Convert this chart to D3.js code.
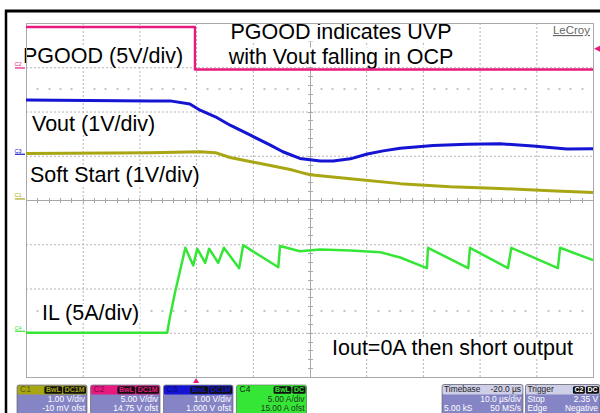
<!DOCTYPE html>
<html>
<head>
<meta charset="utf-8">
<script src="https://cdn.jsdelivr.net/npm/d3@7"></script>
<style>
body { margin: 0; background: #fff; }
svg { display: block; font-family: "Liberation Sans", Arial, sans-serif; }
</style>
</head>
<body>
<svg id="scope" width="600" height="413"></svg>
<script>
// time in microseconds (trigger at 0), value in each channel's unit
const pgood = [[-30, 4.8], [-0.2, 4.8], [-0.2, 0], [70, 0]];

const vout = [[-30, 1.26], [-8.1, 1.24], [-4.6, 1.24], [-1.1, 1.17], [0.7, 1.03], [3.4, 0.88],
  [6.0, 0.69], [9.5, 0.47], [13.1, 0.24], [15.3, 0.09], [18.3, -0.06], [21.9, -0.12],
  [24.2, -0.12], [27.2, -0.07], [30.2, 0.04], [33.0, 0.11], [36.0, 0.17], [41.8, 0.23],
  [47.8, 0.26], [53.6, 0.27], [59.4, 0.22], [65.4, 0.15], [70, 0.16]];

const softStart = [[-30, 1.06], [-8.1, 1.08], [0.7, 1.10], [3.4, 1.08], [6.0, 0.97], [9.5, 0.88],
  [13.1, 0.79], [16.6, 0.70], [18.3, 0.64], [20.1, 0.58], [27.2, 0.49], [36.0, 0.38],
  [44.8, 0.31], [53.6, 0.27], [62.4, 0.22], [70, 0.18]];

const iL = [[-30, 0], [-5.1, 0], [-4.6, 1.8], [-3.7, 4.6], [-2.8, 7.1], [-1.9, 9.6], [-0.5, 7.6],
  [0.2, 9.5], [1.6, 7.9], [2.3, 9.5], [3.9, 7.9], [4.9, 9.6], [7.6, 7.3], [8.3, 9.9],
  [14.5, 7.4], [14.8, 9.8], [18.3, 9.2], [21.9, 9.4], [27.2, 9.3], [32.5, 9.1], [36.0, 8.5],
  [40.7, 7.3], [40.9, 9.6], [48.0, 7.3], [48.3, 9.6], [55.0, 7.3], [55.6, 9.6], [63.8, 7.3],
  [64.2, 9.6], [70, 8.2]];

// channel settings
const chanNames = ["C1", "C2", "C3", "C4"];
const chanData = [softStart, pgood, vout, iL];
const chanPerDiv = [1, 5, 1, 5];
const chanZeroDiv = [-0.01, 2.95, 1.0, -3.0];
const chanColors = ["#a9a614", "#e8197f", "#1414d2", "#36e636"];
const chanWidths = [3, 2.4, 3, 2.5];
const chanScaleText = ["1.00 V/div", "5.00 V/div", "1.00 V/div", "5.00 A/div"];
const chanOfstText = ["-10 mV ofst", "14.75 V ofst", "1.000 V ofst", "15.00 A ofst"];
const chanTags = [["BwL", "DC1M"], ["BwL", "DC1M"], ["BwL", "DC1M"], ["BwL", "DC"]];

const timebaseRows = [["Timebase", "-20.0 µs"], ["", "10.0 µs/div"], ["5.00 kS", "50 MS/s"]];
const triggerRows = [["Trigger", ""], ["Stop", "2.35 V"], ["Edge", "Negative"]];
const triggerLevel = 2.35; // volts on C2

const svg = d3.select("#scope");
svg.append("rect").attr("width", 600).attr("height", 413).attr("fill", "#fff");

var x = d3.scaleLinear().domain([-30, 70]).range([26, 593]);
var y = d3.scaleLinear().domain([-4, 4]).range([377, 23]);

// black frame of the screenshot
svg.append("line").attr("x1", 5).attr("x2", 600).attr("y1", 11).attr("y2", 11)
  .attr("stroke", "#000").attr("stroke-width", 3);
svg.append("line").attr("x1", 6).attr("x2", 6).attr("y1", 10).attr("y2", 413)
  .attr("stroke", "#000").attr("stroke-width", 2.5);

// grid
var grid = svg.append("g");
var tMajor = d3.range(-30, 71, 10);
var vMajor = d3.range(-4, 5, 1);

grid.selectAll(".vg").data(tMajor.filter(t => t > -30 && t < 70 && t !== 20)).enter()
  .append("line")
  .attr("x1", d => x(d) + 0.5).attr("x2", d => x(d) + 0.5)
  .attr("y1", y(4)).attr("y2", y(-4))
  .attr("stroke", "#b4b4b4").attr("stroke-dasharray", "2,2");

grid.selectAll(".hg").data(vMajor.filter(v => v > -4 && v < 4 && v !== 0)).enter()
  .append("line")
  .attr("x1", x(-30)).attr("x2", x(70))
  .attr("y1", d => y(d) + 0.5).attr("y2", d => y(d) + 0.5)
  .attr("stroke", "#b4b4b4").attr("stroke-dasharray", "2,2");

// center axes with minor ticks
var xc = Math.round(x(20)) + 0.5, yc = Math.round(y(0)) + 0.5;
grid.append("line").attr("x1", xc).attr("x2", xc).attr("y1", y(4)).attr("y2", y(-4))
  .attr("stroke", "#a8a8a8");
grid.append("line").attr("x1", x(-30)).attr("x2", x(70)).attr("y1", yc).attr("y2", yc)
  .attr("stroke", "#a8a8a8");

var tMinor = d3.range(-30, 70.01, 2);
var vMinor = d3.range(-4, 4.01, 0.2);

grid.selectAll(".tx").data(tMinor).enter().append("line")
  .attr("x1", d => Math.round(x(d)) + 0.5).attr("x2", d => Math.round(x(d)) + 0.5)
  .attr("y1", yc - 2.5).attr("y2", yc + 2.5)
  .attr("stroke", "#a8a8a8");
grid.selectAll(".ty").data(vMinor).enter().append("line")
  .attr("x1", xc - 2.5).attr("x2", xc + 2.5)
  .attr("y1", d => Math.round(y(d)) + 0.5).attr("y2", d => Math.round(y(d)) + 0.5)
  .attr("stroke", "#a8a8a8");

// rows of minor marks at +/- 2.5 div
[2.5, -2.5].forEach(function(v) {
  grid.append("g").selectAll("rect").data(tMinor.filter(t => (t + 30) % 10 !== 0)).enter()
    .append("rect")
    .attr("x", d => Math.round(x(d)) - 0.5).attr("y", Math.round(y(v)) - 1)
    .attr("width", 2).attr("height", 2)
    .attr("fill", "#c4c4c4");
});

// text labels (white box behind)
function label(txt, xPos, base, anchor) {
  var g = svg.append("g");
  var t = g.append("text").attr("x", xPos).attr("y", base)
    .attr("text-anchor", anchor || "start")
    .attr("font-size", 21.5).attr("fill", "#000").text(txt);
  var bb = t.node().getBBox();
  g.insert("rect", "text").attr("x", bb.x - 1).attr("y", base - 16)
    .attr("width", bb.width + 2).attr("height", 19).attr("fill", "#fff");
}
label("PGOOD (5V/div)", 23, 62.5);
label("PGOOD indicates UVP", 341, 38.5, "middle");
label("with Vout falling in OCP", 341, 63.5, "middle");
label("Vout (1V/div)", 32, 131);
label("Soft Start (1V/div)", 30, 182);
label("IL (5A/div)", 42, 320);
label("Iout=0A then short output", 332, 355);

// plot border
svg.append("rect").attr("x", x(-30) + 0.5).attr("y", y(4) + 0.5)
  .attr("width", x(70) - x(-30)).attr("height", y(-4) - y(4))
  .attr("fill", "none").attr("stroke", "#aaaaaa");

// traces
svg.append("clipPath").attr("id", "clip").append("rect")
  .attr("x", x(-30)).attr("y", y(4)).attr("width", x(70) - x(-30)).attr("height", y(-4) - y(4));

var traces = svg.append("g").attr("clip-path", "url(#clip)");
chanData.forEach(function(data, i) {
  var line = d3.line()
    .x(d => x(d[0]))
    .y(d => y(chanZeroDiv[i] + d[1] / chanPerDiv[i]));
  traces.append("path").datum(data)
    .attr("d", line)
    .attr("fill", "none")
    .attr("stroke", chanColors[i])
    .attr("stroke-width", chanWidths[i])
    .attr("stroke-linejoin", "round");
});

// channel zero markers at the left
chanNames.forEach(function(n, i) {
  var yz = y(chanZeroDiv[i]);
  svg.append("text").attr("x", 14.5).attr("y", yz - 3).attr("font-size", 5.5)
    .attr("fill", chanColors[i]).text(n);
  svg.append("line").attr("x1", 15).attr("x2", 25).attr("y1", yz - 1.5).attr("y2", yz - 1.5)
    .attr("stroke", chanColors[i]).attr("stroke-width", 1.2);
});

// "LeCroy"
svg.append("text").attr("x", 590).attr("y", 34).attr("text-anchor", "end")
  .attr("font-size", 11.5).attr("fill", "#666").attr("text-decoration", "underline")
  .text("LeCroy");

// trigger level and trigger position arrows
var ty = y(chanZeroDiv[1] + triggerLevel / chanPerDiv[1]);
svg.append("path").attr("d", "M594," + ty + " l6,-3 l0,6 z").attr("fill", chanColors[1]);
svg.append("path").attr("d", "M" + x(0) + ",378 l-3,5 l6,0 z").attr("fill", chanColors[1]);

// info panel at the bottom
var bodyFill = "#8585c6";
var rowBase = [392, 401.5, 410.8];
function tagRow(x1, tags, fill, color) {
  var xr = x1;
  for (var k = tags.length - 1; k >= 0; k--) {
    var g = svg.append("g");
    var t = g.append("text").attr("y", rowBase[0]).attr("font-size", 7).attr("font-weight", "bold")
      .attr("fill", color).attr("text-anchor", "end").text(tags[k]);
    var w = t.node().getComputedTextLength() + 3;
    t.attr("x", xr - 1.5);
    g.insert("rect", "text").attr("x", xr - w).attr("y", 386.2)
      .attr("width", w).attr("height", 7.6).attr("rx", 1.5).attr("fill", fill);
    xr -= w + 1;
  }
}

function chanBox(i, x0, w) {
  var head = chanColors[i];
  var body = i === 3 ? chanColors[3] : bodyFill;
  var bodyText = i === 3 ? "#1e3a1e" : "#fff";
  svg.append("rect").attr("x", x0).attr("y", 385).attr("width", w).attr("height", 34)
    .attr("rx", 2).attr("fill", body).attr("stroke", "#555").attr("stroke-width", 0.6);
  svg.append("rect").attr("x", x0 + 0.5).attr("y", 385.5).attr("width", w - 1).attr("height", 9)
    .attr("rx", 1.5).attr("fill", head);
  svg.append("text").attr("x", x0 + 3).attr("y", rowBase[0]).attr("font-size", 8.5)
    .attr("fill", i === 3 ? "#1a1a1a" : d3.color(head).darker(1.6)).text(chanNames[i]);
  tagRow(x0 + w - 1, chanTags[i], "#111", head);
  svg.append("text").attr("x", x0 + w - 2).attr("y", rowBase[1]).attr("font-size", 8.4)
    .attr("text-anchor", "end").attr("fill", bodyText).text(chanScaleText[i]);
  svg.append("text").attr("x", x0 + w - 2).attr("y", rowBase[2]).attr("font-size", 8.4)
    .attr("text-anchor", "end").attr("fill", bodyText).text(chanOfstText[i]);
}
chanBox(0, 17, 70);
chanBox(1, 90.5, 69.5);
chanBox(2, 163.5, 69.5);
chanBox(3, 236.5, 70);

function infoBox(rows, x0, w, tags) {
  svg.append("rect").attr("x", x0).attr("y", 384.5).attr("width", w).attr("height", 34)
    .attr("rx", 2).attr("fill", bodyFill).attr("stroke", "#555").attr("stroke-width", 0.6);
  svg.append("rect").attr("x", x0 + 0.5).attr("y", 385).attr("width", w - 1).attr("height", 9.5)
    .attr("rx", 1.5).attr("fill", "#cfcfe8");
  rows.forEach(function(r, k) {
    var col = k === 0 ? "#222" : "#fff";
    svg.append("text").attr("x", x0 + 2).attr("y", rowBase[k]).attr("font-size", 8.4)
      .attr("fill", col).text(r[0]);
    svg.append("text").attr("x", x0 + w - 2).attr("y", rowBase[k]).attr("font-size", 8.4)
      .attr("text-anchor", "end").attr("fill", col).text(r[1]);
  });
  if (tags) tagRow(x0 + w - 1, tags, "#111", "#fff");
}
infoBox(timebaseRows, 442, 81);
infoBox(triggerRows, 525.5, 74.5, ["C2", "DC"]);
</script>
</body>
</html>
